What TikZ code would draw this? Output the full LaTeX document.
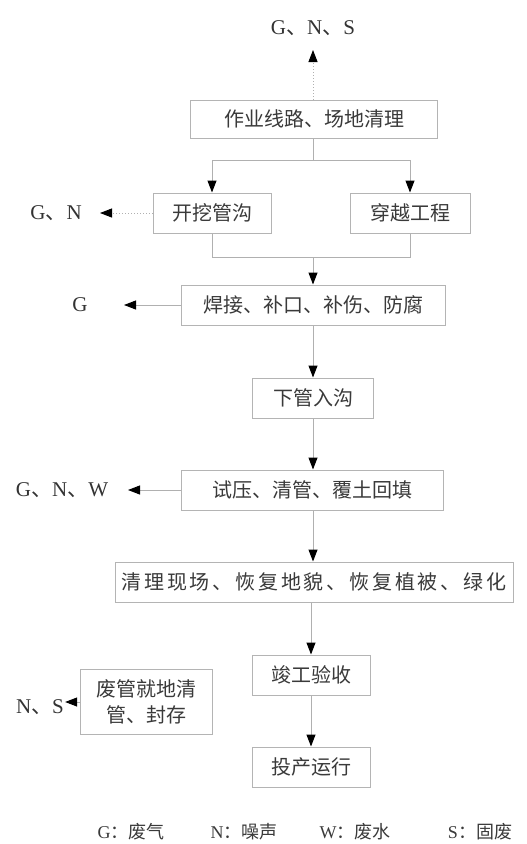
\documentclass[tikz,border=0pt]{standalone}
\usepackage{fontspec}
\setmainfont{Liberation Serif}
\newfontfamily\cjk{Noto Sans CJK SC}
\usetikzlibrary{arrows.meta}
\definecolor{boxc}{HTML}{B4B4B4}
\definecolor{linec}{HTML}{B0B0B0}
\definecolor{txt}{HTML}{3A3A3A}
\newcommand\dn{{\cjk 、}}
\begin{document}
\begin{tikzpicture}[x=1pt,y=-1pt,
 box/.style={draw=boxc,line width=1pt,text=txt,font=\cjk\fontsize{20}{26}\selectfont,inner sep=0pt,minimum height=40pt,align=center},
 lab/.style={text=black!80,font=\fontsize{21}{24}\selectfont,inner sep=1pt},
 leg/.style={text=txt,font=\fontsize{18}{22}\selectfont,inner sep=0pt},
 conn/.style={draw=linec,line width=1pt},
 arr/.style={conn,-{Triangle[length=12pt,width=9pt,color=black]}},
 dotarr/.style={arr,dotted}]
\useasboundingbox[fill=white] (0,0) rectangle (527,844);

% boxes
\node[box,minimum width=247pt,minimum height=38pt] (b1) at (314,119) {作业线路、场地清理};
\node[box,minimum width=118pt] (b2a) at (212,213) {开挖管沟};
\node[box,minimum width=120pt] (b2b) at (410,213) {穿越工程};
\node[box,minimum width=264pt] (b3) at (313,305) {焊接、补口、补伤、防腐};
\node[box,minimum width=121pt] (b4) at (313,398) {下管入沟};
\node[box,minimum width=262pt] (b5) at (312,490) {试压、清管、覆土回填};
\node[box,minimum width=398pt] (b6) at (314,582) {\addfontfeature{LetterSpace=14}清理现场、恢复地貌、恢复植被、绿化};
\node[box,minimum width=118pt] (b7) at (311,675) {竣工验收};
\node[box,minimum width=132pt,minimum height=65pt] (b8) at (146,702) {废管就地清\\管、封存};
\node[box,minimum width=118pt] (b9) at (311,767) {投产运行};

% emission labels
\node[lab] (e1) at (313,28) {G\dn N\dn S};
\node[lab] (e2) at (56,213) {G\dn N};
\node[lab] (e3) at (80,305) {G};
\node[lab] (e5) at (62,490) {G\dn N\dn W};
\node[lab] (e8) at (40,707) {N\dn S};

% emission arrows
\coordinate (t1) at (313,50);
\draw[dotarr] (b1.north -| t1) -- (t1);
\coordinate (t2) at (100,213);
\draw[dotarr] (b2a.west) -- (t2);
\coordinate (t3) at (124,305);
\draw[arr] (b3.west) -- (t3);
\coordinate (t5) at (128,490);
\draw[arr] (b5.west) -- (t5);
\draw[arr] (b8.west) -- (e8.east |- b8.west);

% main flow
\coordinate (s1) at (313,160);
\draw[conn] (b1.south -| s1) -- (s1);
\draw[arr] (s1) -| (b2a.north);
\draw[arr] (s1) -| (b2b.north);
\coordinate (m1) at (313,257);
\draw[conn] (b2a.south) |- (m1);
\draw[conn] (b2b.south) |- (m1);
\draw[arr] (m1) -- (b3.north -| m1);
\draw[arr] (b3.south) -- (b4.north);
\draw[arr] (b4.south) -- (b5.north -| b4.south);
\draw[arr] (b5.south -| b4.south) -- (b6.north -| b4.south);
\draw[arr] (b6.south -| b7.north) -- (b7.north);
\draw[arr] (b7.south) -- (b9.north);

% legend
\node[leg] (l1) at (131,832) {G{\cjk ：废气}};
\node[leg] (l2) at (244,832) {N{\cjk ：噪声}};
\node[leg] (l3) at (355,832) {W{\cjk ：废水}};
\node[leg] (l4) at (480,832) {S{\cjk ：固废}};
\end{tikzpicture}
\end{document}
